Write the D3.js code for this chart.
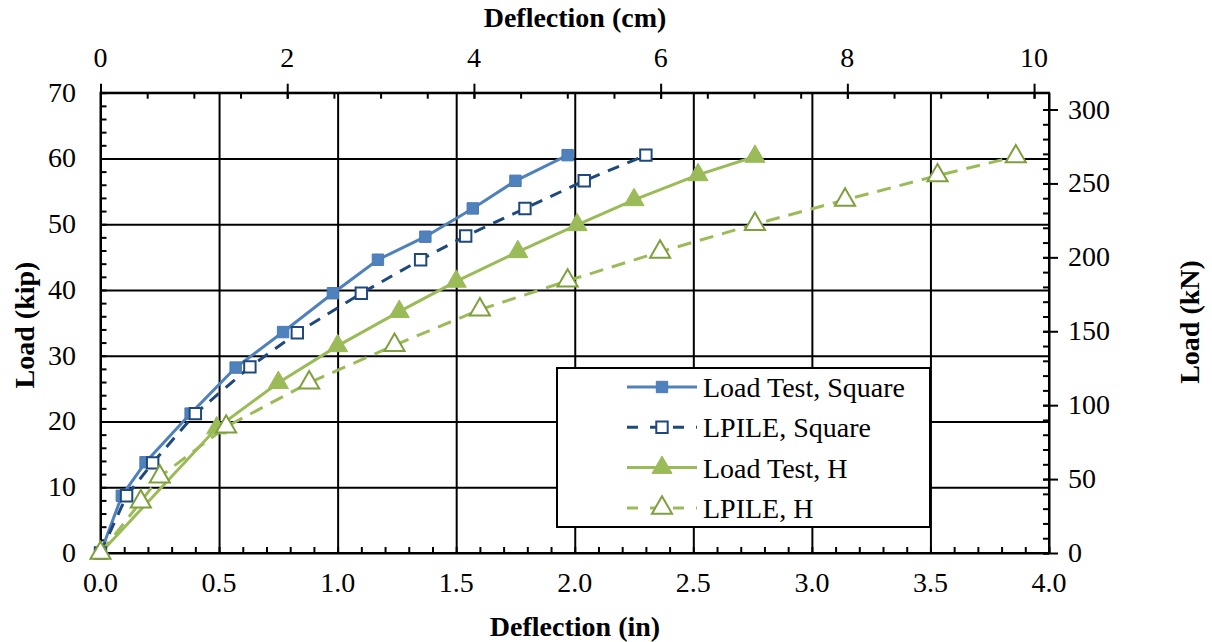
<!DOCTYPE html>
<html>
<head>
<meta charset="utf-8">
<script src="https://cdn.jsdelivr.net/npm/d3@7"></script>
<style>
  body { margin: 0; background: #fff; }
  svg text { font-family: "Liberation Serif", "Times New Roman", serif; fill: #000; }
  .axis path, .axis line { stroke: #000; }
</style>
</head>
<body>
<div id="viz"></div>
<script>
// Chart values (deflection in inches, load in kip)
const loadTestSquare = [[0, 0], [0.09, 8.7], [0.19, 13.8], [0.38, 21.2], [0.57, 28.2], [0.77, 33.6], [0.98, 39.5], [1.17, 44.6], [1.37, 48.1], [1.57, 52.4], [1.75, 56.6], [1.97, 60.5]];
const lpileSquare = [[0, 0], [0.11, 8.7], [0.22, 13.7], [0.40, 21.2], [0.63, 28.3], [0.83, 33.5], [1.10, 39.5], [1.35, 44.6], [1.54, 48.2], [1.79, 52.4], [2.04, 56.6], [2.30, 60.5]];
const loadTestH = [[0, 0], [0.49, 19.0], [0.75, 25.9], [1.00, 31.5], [1.26, 36.7], [1.50, 41.3], [1.76, 45.8], [2.01, 49.9], [2.25, 53.7], [2.52, 57.5], [2.76, 60.3]];
const lpileH = [[0, 0], [0.17, 7.8], [0.25, 11.6], [0.53, 19.2], [0.88, 25.9], [1.24, 31.6], [1.60, 37.0], [1.97, 41.4], [2.36, 45.8], [2.76, 50.0], [3.14, 53.7], [3.53, 57.4], [3.86, 60.3]];

const seriesNames = ["Load Test, Square", "LPILE, Square", "Load Test, H", "LPILE, H"];
const inTicks = [0, 0.5, 1.0, 1.5, 2.0, 2.5, 3.0, 3.5, 4.0];
const cmTicks = [0, 2, 4, 6, 8, 10];
const kipTicks = [0, 10, 20, 30, 40, 50, 60, 70];
const kNTicks = [0, 50, 100, 150, 200, 250, 300];

const width = 1212, height = 642;
const plot = { left: 100.5, right: 1049, top: 92.7, bottom: 553 };

const svg = d3.select("#viz").append("svg")
    .attr("width", width)
    .attr("height", height)
    .style("background", "#fff");

// Scales
const x = d3.scaleLinear().domain([0, 4]).range([plot.left, plot.right]);
const xCm = d3.scaleLinear().domain([0, 4 * 2.54]).range([plot.left, plot.right]);
const y = d3.scaleLinear().domain([0, 70]).range([plot.bottom, plot.top]);
const yKN = d3.scaleLinear().domain([0, 70 * 4.44822]).range([plot.bottom, plot.top]);

const plotH = plot.bottom - plot.top;
const plotW = plot.right - plot.left;

// Gridlines
svg.append("g")
    .attr("class", "axis grid")
    .attr("transform", `translate(0,${plot.bottom})`)
    .call(d3.axisBottom(x).tickValues(inTicks).tickSize(-plotH).tickFormat(""))
    .call(g => g.select(".domain").remove())
    .selectAll("line").attr("stroke-width", 2);

svg.append("g")
    .attr("class", "axis grid")
    .attr("transform", `translate(${plot.left},0)`)
    .call(d3.axisLeft(y).tickValues(kipTicks).tickSize(-plotW).tickFormat(""))
    .call(g => g.select(".domain").remove())
    .selectAll("line").attr("stroke-width", 2);

// Minor ticks (inward)
svg.append("g")
    .attr("class", "axis")
    .attr("transform", `translate(0,${plot.bottom})`)
    .call(d3.axisBottom(x).tickValues(d3.range(0, 41).map(d => d / 10)).tickSize(-6).tickFormat(""))
    .call(g => g.select(".domain").remove())
    .selectAll("line").attr("stroke-width", 2);

svg.append("g")
    .attr("class", "axis")
    .attr("transform", `translate(${plot.left},0)`)
    .call(d3.axisLeft(y).tickValues(d3.range(0, 36).map(d => d * 2)).tickSize(-6).tickFormat(""))
    .call(g => g.select(".domain").remove())
    .selectAll("line").attr("stroke-width", 2);

svg.append("g")
    .attr("class", "axis")
    .attr("transform", `translate(0,${plot.top})`)
    .call(d3.axisTop(xCm).tickValues(d3.range(0, 21).map(d => d / 2)).tickSize(-6).tickFormat(""))
    .call(g => g.select(".domain").remove())
    .selectAll("line").attr("stroke-width", 2);

svg.append("g")
    .attr("class", "axis")
    .attr("transform", `translate(${plot.right},0)`)
    .call(d3.axisRight(yKN).tickValues(d3.range(0, 31).map(d => d * 10)).tickSize(-6).tickFormat(""))
    .call(g => g.select(".domain").remove())
    .selectAll("line").attr("stroke-width", 2);

// Major cross ticks on secondary axes
svg.append("g")
    .attr("class", "axis")
    .attr("transform", `translate(0,${plot.top + 6})`)
    .call(d3.axisTop(xCm).tickValues(cmTicks).tickSize(15).tickFormat(""))
    .call(g => g.select(".domain").remove())
    .selectAll("line").attr("stroke-width", 2);

svg.append("g")
    .attr("class", "axis")
    .attr("transform", `translate(${plot.right - 6},0)`)
    .call(d3.axisRight(yKN).tickValues(kNTicks).tickSize(15).tickFormat(""))
    .call(g => g.select(".domain").remove())
    .selectAll("line").attr("stroke-width", 2);

// Plot frame
svg.append("rect")
    .attr("x", plot.left).attr("y", plot.top)
    .attr("width", plotW).attr("height", plotH)
    .attr("fill", "none").attr("stroke", "#000").attr("stroke-width", 2);

// Tick labels
const fs = 28;
svg.append("g").selectAll("text")
    .data(inTicks).enter().append("text")
    .attr("x", d => x(d)).attr("y", 592)
    .attr("text-anchor", "middle").attr("font-size", fs)
    .text(d => d.toFixed(1));

svg.append("g").selectAll("text")
    .data(cmTicks).enter().append("text")
    .attr("x", d => xCm(d)).attr("y", 67)
    .attr("text-anchor", "middle").attr("font-size", fs)
    .text(d => d);

svg.append("g").selectAll("text")
    .data(kipTicks).enter().append("text")
    .attr("x", 76).attr("y", d => y(d) + 9)
    .attr("text-anchor", "end").attr("font-size", fs)
    .text(d => d);

svg.append("g").selectAll("text")
    .data(kNTicks).enter().append("text")
    .attr("x", 1068).attr("y", d => yKN(d) + 9)
    .attr("text-anchor", "start").attr("font-size", fs)
    .text(d => d);

// Axis titles
svg.append("text")
    .attr("x", 575).attr("y", 636)
    .attr("text-anchor", "middle").attr("font-size", fs).attr("font-weight", "bold")
    .text("Deflection (in)");

svg.append("text")
    .attr("x", 575).attr("y", 27)
    .attr("text-anchor", "middle").attr("font-size", fs).attr("font-weight", "bold")
    .text("Deflection (cm)");

svg.append("text")
    .attr("transform", "translate(34,325) rotate(-90)")
    .attr("text-anchor", "middle").attr("font-size", fs).attr("font-weight", "bold")
    .text("Load (kip)");

svg.append("text")
    .attr("transform", "translate(1199,322) rotate(-90)")
    .attr("text-anchor", "middle").attr("font-size", fs).attr("font-weight", "bold")
    .text("Load (kN)");

// Series styles
const series = [
    { name: seriesNames[0], data: loadTestSquare, color: "#4f81bd", dash: null, marker: "square", fill: "#4f81bd", mstroke: "#4a7ab5" },
    { name: seriesNames[1], data: lpileSquare, color: "#1f497d", dash: "12,9", marker: "square", fill: "#fff", mstroke: "#1f497d" },
    { name: seriesNames[2], data: loadTestH, color: "#9bbb59", dash: null, marker: "triangle", fill: "#9bbb59", mstroke: "#9bbb59" },
    { name: seriesNames[3], data: lpileH, color: "#9bbb59", dash: "14,9", marker: "triangle", fill: "#fff", mstroke: "#7f9f3f" }
];

const line = d3.line().x(d => x(d[0])).y(d => y(d[1]));
const sym = {
    square: d3.symbol().type(d3.symbolSquare).size(130),
    triangle: d3.symbol().type(d3.symbolTriangle).size(175)
};

series.forEach(s => {
    svg.append("path")
        .datum(s.data)
        .attr("d", line)
        .attr("fill", "none")
        .attr("stroke", s.color)
        .attr("stroke-width", 3)
        .attr("stroke-dasharray", s.dash);
});

series.forEach(s => {
    svg.append("g").selectAll("path")
        .data(s.data).enter().append("path")
        .attr("d", sym[s.marker])
        .attr("transform", d => `translate(${x(d[0])},${y(d[1])})`)
        .attr("fill", s.fill)
        .attr("stroke", s.mstroke)
        .attr("stroke-width", s.fill === "#fff" ? 2 : 1);
});

// Legend
const legend = svg.append("g").attr("transform", "translate(557,368)");
legend.append("rect")
    .attr("width", 373).attr("height", 159)
    .attr("fill", "#fff").attr("stroke", "#000").attr("stroke-width", 2);

series.forEach((s, i) => {
    const cy = 19 + i * 40.3;
    legend.append("line")
        .attr("x1", 70).attr("x2", 140).attr("y1", cy).attr("y2", cy)
        .attr("stroke", s.color).attr("stroke-width", 3)
        .attr("stroke-dasharray", s.dash ? "11,12" : null);
    legend.append("path")
        .attr("d", sym[s.marker])
        .attr("transform", `translate(105,${cy})`)
        .attr("fill", s.fill)
        .attr("stroke", s.mstroke)
        .attr("stroke-width", s.fill === "#fff" ? 2 : 1);
    legend.append("text")
        .attr("x", 146).attr("y", cy + 10)
        .attr("font-size", fs)
        .text(s.name);
});
</script>
</body>
</html>
